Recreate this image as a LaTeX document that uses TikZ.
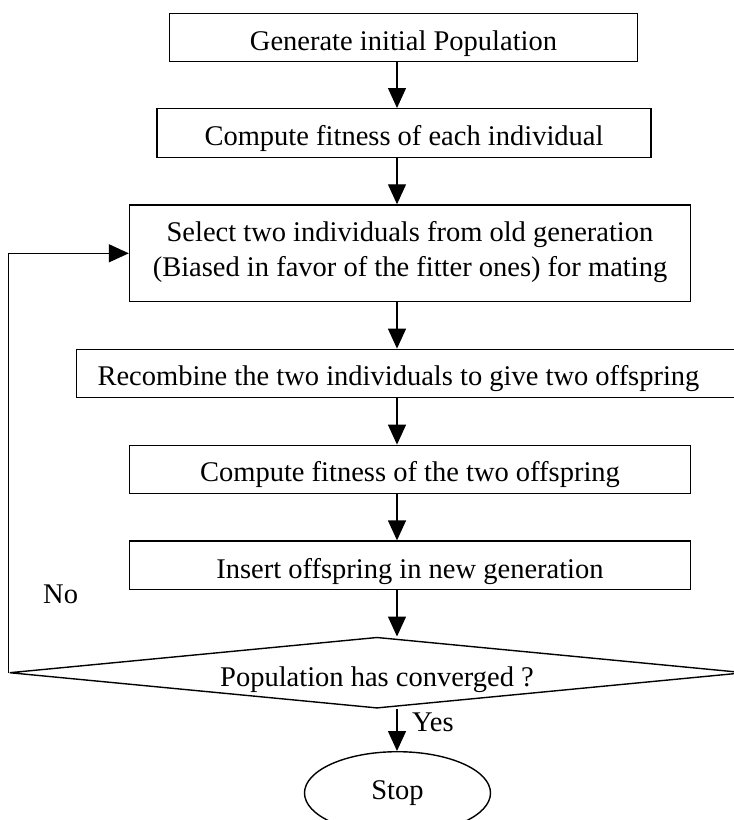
\documentclass[tikz,border=0pt]{standalone}
\usepackage{fontspec}
\setmainfont{Liberation Serif}
\usetikzlibrary{arrows.meta,shapes.geometric}
\begin{document}
\begin{tikzpicture}[x=1pt,y=-1pt,
  every node/.style={font=\fontsize{28.5}{35}\selectfont},
  box/.style={draw, line width=1.4pt, rectangle, inner sep=0pt, text height=25pt, text depth=0pt},
  arr/.style={line width=1.4pt, -{Triangle[length=20pt,width=18pt]}},
  lbl/.style={anchor=base west, inner sep=0pt}
]
\useasboundingbox (0,0) rectangle (734,820);
\clip (0,0) rectangle (734,820);
\fill[white] (0,0) rectangle (734,820);
\coordinate (ax) at (397,0);

\node[box, minimum width=468pt, minimum height=48.4pt] (b1) at (403.5,37.5) {Generate initial Population};
\node[box, minimum width=494pt, minimum height=48.6pt, text height=24pt] (b2) at (404,133) {Compute fitness of each individual};
\node[box, minimum width=561pt, minimum height=96.7pt, align=center, text height=45.4pt] (b3) at (410,253.3) {Select two individuals from old generation\\(Biased in favor of the fitter ones) for mating};
\node[box, minimum width=683.7pt, minimum height=48.4pt, text height=23pt] (b4) at (418.15,373.5) {\hspace*{-39.3pt}Recombine the two individuals to give two offspring};
\node[box, minimum width=561pt, minimum height=48pt, text height=24.8pt] (b5) at (410,469.3) {Compute fitness of the two offspring};
\node[box, minimum width=561pt, minimum height=48.3pt, text height=26.6pt] (b6) at (410,565.2) {Insert offspring in new generation};
\node[draw, diamond, line width=1.4pt, inner sep=0pt, minimum width=735.2pt, minimum height=71pt, aspect=10.35, text height=26.6pt, text depth=0pt] (dia) at (377,672.7) {Population has converged ?};
\node[draw, ellipse, line width=1.4pt, inner sep=0pt, minimum width=186pt, minimum height=82.6pt] (stop) at (397.5,793) {Stop};

\draw[arr] (ax |- b1.south) -- (ax |- b2.north);
\draw[arr] (ax |- b2.south) -- (ax |- b3.north);
\draw[arr] (ax |- b3.south) -- (ax |- b4.north);
\draw[arr] (ax |- b4.south) -- (ax |- b5.north);
\draw[arr] (ax |- b5.south) -- (ax |- b6.north);
\draw[arr] (ax |- b6.south) -- (ax |- dia.north);
\draw[arr] (ax |- dia.south) -- (ax |- stop.north);
\draw[arr] (dia.west) |- (b3.west);

\node[lbl] (no) at (43,603.3) {No};
\node[lbl] (yes) at (412,731.7) {Yes};
\end{tikzpicture}
\end{document}
